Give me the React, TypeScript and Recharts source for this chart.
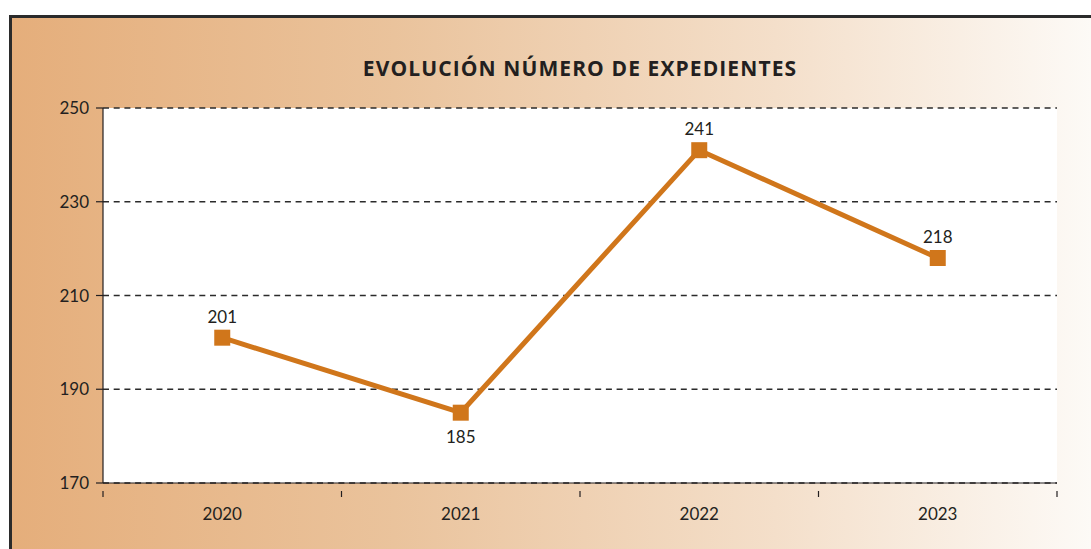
import { LineChart, Line, XAxis, YAxis, CartesianGrid, LabelList } from 'recharts'

const years = ['2020', '2021', '2022', '2023']
const expedientes = [201, 185, 241, 218]
const yTicks = [170, 190, 210, 230, 250]

const W = 1091
const H = 549
const M = { top: 108, right: 34, bottom: 0, left: 0 }
const X_AXIS_H = 66
const Y_AXIS_W = 103
const BAND = (W - M.left - M.right - Y_AXIS_W) / years.length
const ORANGE = '#d0761b'
const INK = '#231f20'
const FONT = 'Lato, "Open Sans", sans-serif'

const data = years.map((y, i) => ({ year: y, value: expedientes[i] }))

function XTick(props: any) {
  const { x, y, payload, index } = props
  const left = x - BAND / 2
  const right = x + BAND / 2
  return (
    <g>
      <line x1={left} y1={y} x2={left} y2={y + 6} stroke={INK} strokeWidth={1.2} />
      {index === years.length - 1 && (
        <line x1={right} y1={y} x2={right} y2={y + 6} stroke={INK} strokeWidth={1.2} />
      )}
      <text x={x} y={y + 29} textAnchor="middle" fill={INK} fontSize={17} fontFamily={FONT}>
        {payload.value}
      </text>
    </g>
  )
}

function Square(props: any) {
  const { cx, cy } = props
  return <rect x={cx - 8} y={cy - 8} width={16} height={16} fill={ORANGE} />
}

function ValueLabel(props: any) {
  const { x, y, value, index } = props
  const prev = expedientes[index - 1]
  const next = expedientes[index + 1]
  const isLow = prev !== undefined && next !== undefined && value < prev && value < next
  return (
    <text x={x} y={isLow ? y + 30 : y - 15} textAnchor="middle" fill={INK} fontSize={17} fontFamily={FONT}>
      {value}
    </text>
  )
}

export default function App() {
  return (
    <div style={{ position: 'absolute', left: 0, top: 0, width: W, height: H, background: '#fff', overflow: 'hidden' }}>
      <div
        style={{
          position: 'absolute',
          left: 9,
          top: 15,
          width: W,
          height: H,
          borderTop: '3px solid #2b2b2b',
          borderLeft: '3px solid #2b2b2b',
          background: 'linear-gradient(to right, #e5ae7b 0%, #eac39c 35%, #f4dfca 70%, #fdfbf8 100%)',
        }}
      />
      <div style={{ position: 'absolute', left: 0, top: 0 }}>
        <LineChart width={W} height={H} data={data} margin={M}>
          <text
            x={580}
            y={76}
            textAnchor="middle"
            fill={INK}
            fontSize={21}
            fontWeight={700}
            letterSpacing={1.1}
            fontFamily='"Open Sans", Lato, sans-serif'
          >
            EVOLUCIÓN NÚMERO DE EXPEDIENTES
          </text>
          <CartesianGrid vertical={false} fill="#fff" stroke="#2b2b2b" strokeDasharray="6 4.7" strokeWidth={1.5} />
          <XAxis
            dataKey="year"
            axisLine={{ stroke: INK, strokeWidth: 1.2 }}
            tickLine={false}
            tick={<XTick />}
            height={X_AXIS_H}
            padding={{ left: BAND / 2, right: BAND / 2 }}
          />
          <YAxis
            domain={[170, 250]}
            ticks={yTicks}
            width={Y_AXIS_W}
            axisLine={{ stroke: INK, strokeWidth: 1.2 }}
            tickLine={{ stroke: INK, strokeWidth: 1.2 }}
            tickSize={7}
            tickMargin={7}
            tick={{ fill: INK, fontSize: 17, fontFamily: FONT }}
            interval={0}
          />
          <Line
            type="linear"
            dataKey="value"
            stroke={ORANGE}
            strokeWidth={5}
            dot={<Square />}
            activeDot={false}
            isAnimationActive={false}
          >
            <LabelList dataKey="value" content={<ValueLabel />} />
          </Line>
        </LineChart>
      </div>
    </div>
  )
}
